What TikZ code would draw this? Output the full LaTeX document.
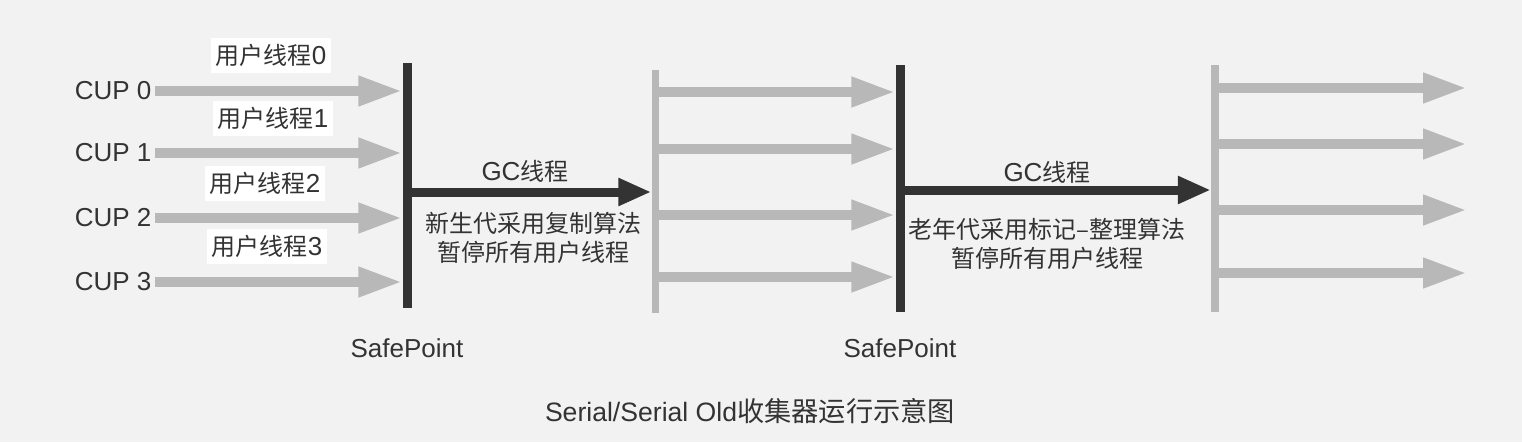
\documentclass[tikz,border=0pt]{standalone}
\usepackage{fontspec}
\setmainfont{Liberation Sans}
\newfontfamily\cjk{Noto Sans CJK SC}[Scale=0.923]
\usetikzlibrary{arrows.meta, positioning}
\definecolor{bgcol}{HTML}{F2F2F2}
\definecolor{darkcol}{HTML}{333333}
\definecolor{graycol}{HTML}{B8B8B8}

\begin{document}
\begin{tikzpicture}[
            x = 1pt, y = -1pt, % pixel units, y grows downwards
            font = \fontsize{26}{29}\selectfont, % text size
            text = darkcol, % text colour
        ]
 \tikzstyle{usr}=[
            draw = graycol,
            line width = 10pt,
            -{Triangle[length=44pt, width=28pt]}
        ]
 \tikzstyle{gc}=[
            draw = darkcol,
            line width = 9pt,
            -{Triangle[length=33pt, width=26pt]}
        ]
 \tikzstyle{bar}=[
            fill = darkcol,
            inner sep = 0pt,
            minimum width = 9pt,
            minimum height = 245pt
        ]
 \tikzstyle{lightbar}=[bar, fill = graycol, minimum width = 7pt]
 \tikzstyle{tag}=[fill = white, inner sep = 5pt, minimum height = 35pt]
 \tikzstyle{zh}=[font = \fontsize{26}{29.5}\selectfont\cjk]
\fill[bgcol] (0,0) rectangle (1522,442);
\useasboundingbox (0,0) rectangle (1522,442);
% safepoints and bars
\node[bar](sp1) at (407,185.5) {};
\node[lightbar, minimum height=243pt](mid) at (655,191) {};
\node[bar, minimum height=247pt](sp2) at (900,188.5) {};
\node[lightbar, minimum width=8pt, minimum height=247pt](run) at (1215,188.5) {};
\node[below=27pt of sp1](safe1){SafePoint};
\node[below=23pt of sp2](safe2){SafePoint};
% cpus
\node[anchor=east](cup0) at (155,91) {CUP 0};
\node[anchor=east](cup1) at (155,153) {CUP 1};
\node[anchor=east](cup2) at (155,218) {CUP 2};
\node[anchor=east](cup3) at (155,282) {CUP 3};
\draw[usr] (cup0.east) -- (cup0.east -| sp1.west);
\draw[usr] (cup1.east) -- (cup1.east -| sp1.west);
\draw[usr] (cup2.east) -- (cup2.east -| sp1.west);
\draw[usr] (cup3.east) -- (cup3.east -| sp1.west);
\node[tag](t0) at (271,55) {{\cjk 用户线程}0};
\node[tag](t1) at (273,118) {{\cjk 用户线程}1};
\node[tag](t2) at (265,183) {{\cjk 用户线程}2};
\node[tag](t3) at (267,246) {{\cjk 用户线程}3};
% young gc
\coordinate (g1) at (411,192);
\draw[gc] (g1) -- (g1 -| mid.west);
\node(gc1) at (525,171) {GC{\cjk 线程}};
\node[zh, align=center](d1) at (533,238) {新生代采用复制算法\\暂停所有用户线程};
% user threads again
\coordinate (m0) at (658,92);
\coordinate (m1) at (658,149);
\coordinate (m2) at (658,215);
\coordinate (m3) at (658,277);
\draw[usr] (m0) -- (m0 -| sp2.west);
\draw[usr] (m1) -- (m1 -| sp2.west);
\draw[usr] (m2) -- (m2 -| sp2.west);
\draw[usr] (m3) -- (m3 -| sp2.west);
% old gc
\coordinate (g2) at (904,190);
\draw[gc] (g2) -- (g2 -| run.west);
\node(gc2) at (1047,172) {GC{\cjk 线程}};
\node[zh, align=center](d2) at (1047,244) {老年代采用标记–整理算法\\暂停所有用户线程};
% user threads after
\coordinate (fin) at (1467,0);
\coordinate (r0) at (1219,88);
\coordinate (r1) at (1219,144);
\coordinate (r2) at (1219,210);
\coordinate (r3) at (1219,273);
\draw[usr] (r0) -- (r0 -| fin);
\draw[usr] (r1) -- (r1 -| fin);
\draw[usr] (r2) -- (r2 -| fin);
\draw[usr] (r3) -- (r3 -| fin);
\node[font=\fontsize{26.6}{32}\selectfont](title) at (750,411) {Serial/Serial Old{\cjk\fontsize{29.5}{32}\selectfont 收集器运行示意图}};
\end{tikzpicture}
\end{document}
